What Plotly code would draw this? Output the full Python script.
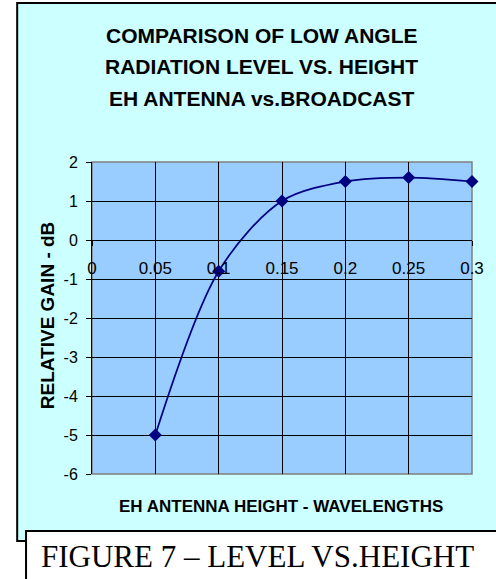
import plotly.graph_objects as go

# Data
height_wl = [0.05, 0.1, 0.15, 0.2, 0.25, 0.3]
rel_gain_db = [-5.0, -0.8, 1.0, 1.5, 1.6, 1.5]

x_tickvals = [0, 0.05, 0.1, 0.15, 0.2, 0.25, 0.3]
x_ticktext = ["0", "0.05", "0.1", "0.15", "0.2", "0.25", "0.3"]
y_tickvals = [-6, -5, -4, -3, -2, -1, 0, 1, 2]
y_ticktext = ["-6", "-5", "-4", "-3", "-2", "-1", "0", "1", "2"]

title_lines = ["COMPARISON OF LOW ANGLE", "RADIATION LEVEL VS. HEIGHT", "EH ANTENNA vs.BROADCAST"]
x_title = "EH ANTENNA HEIGHT - WAVELENGTHS"
y_title = "RELATIVE GAIN - dB"
caption = "FIGURE 7 – LEVEL VS.HEIGHT"

W, H = 496, 579
L, R, T, B = 92, 478, 162, 474  # plot area in pixels
pw, ph = R - L, B - T


def px(xp):
    return (xp - L) / pw


def py(yp):
    return (B - yp) / ph


CYAN = "#CCFFFF"
BLUE = "#99CCFF"
NAVY = "#000080"

fig = go.Figure()
fig.add_trace(go.Scatter(
    x=height_wl, y=rel_gain_db, mode="lines+markers",
    line=dict(color=NAVY, width=1.7, shape="spline", smoothing=0.9),
    marker=dict(symbol="diamond", size=10, color=NAVY),
    showlegend=False, cliponaxis=False,
))

shapes = [
    # chart area (cyan) with black border
    dict(type="rect", xref="paper", yref="paper", x0=px(16), x1=px(520), y0=py(541), y1=py(3),
         fillcolor=CYAN, line=dict(color="#000000", width=2), layer="below"),
    # plot area
    dict(type="rect", xref="x domain", yref="y domain", x0=0, x1=1, y0=0, y1=1,
         fillcolor=BLUE, line=dict(color="#808080", width=1.5), layer="below"),
    # caption box
    dict(type="rect", xref="paper", yref="paper", x0=px(25), x1=px(520), y0=py(600), y1=py(531),
         fillcolor="#FFFFFF", line=dict(color="#000000", width=2), layer="below"),
]

annotations = []
for txt, yc in zip(title_lines, [35.5, 66.5, 98.5]):
    annotations.append(dict(text="<b>%s</b>" % txt, x=px(264), y=py(yc), xref="paper", yref="paper",
                            showarrow=False, xanchor="center", yanchor="middle",
                            font=dict(family="Liberation Sans, Arial", size=21, color="#000000")))
annotations.append(dict(text="<b>%s</b>" % x_title, x=px(284), y=py(506), xref="paper", yref="paper",
                        showarrow=False, xanchor="center", yanchor="middle",
                        font=dict(family="Liberation Sans, Arial", size=17, color="#000000")))
annotations.append(dict(text="<b>%s</b>" % y_title, x=px(46.5), y=py(315), xref="paper", yref="paper",
                        showarrow=False, xanchor="center", yanchor="middle", textangle=-90,
                        font=dict(family="Liberation Sans, Arial", size=19, color="#000000")))
annotations.append(dict(text=caption, x=px(260), y=py(556), xref="paper", yref="paper",
                        showarrow=False, xanchor="center", yanchor="middle",
                        font=dict(family="Liberation Serif, Times New Roman", size=31, color="#000000")))

fig.update_layout(
    width=W, height=H,
    margin=dict(l=L, r=W - R, t=T, b=H - B, pad=0),
    paper_bgcolor="#FFFFFF", plot_bgcolor=BLUE,
    shapes=shapes, annotations=annotations,
    xaxis=dict(range=[0, 0.3], tickvals=x_tickvals, ticktext=x_ticktext,
               anchor="free", position=0.75,
               showgrid=True, gridcolor="#000000", gridwidth=1,
               showline=True, linecolor="#000000", linewidth=1,
               ticks="outside", ticklen=5, tickcolor="#000000", tickwidth=1,
               ticklabelstandoff=8, zeroline=False,
               tickfont=dict(family="Liberation Sans, Arial", size=17, color="#000000")),
    yaxis=dict(range=[-6, 2], tickvals=y_tickvals, ticktext=y_ticktext, domain=[0, 1],
               showgrid=True, gridcolor="#000000", gridwidth=1,
               showline=True, linecolor="#000000", linewidth=1,
               ticks="outside", ticklen=5, tickcolor="#000000", tickwidth=1,
               ticklabelstandoff=5, zeroline=False,
               tickfont=dict(family="Liberation Sans, Arial", size=16, color="#000000")),
)

fig.write_html("out.html", config={"displayModeBar": False},
               post_script="document.body.style.margin='0';document.body.style.overflow='hidden';")
